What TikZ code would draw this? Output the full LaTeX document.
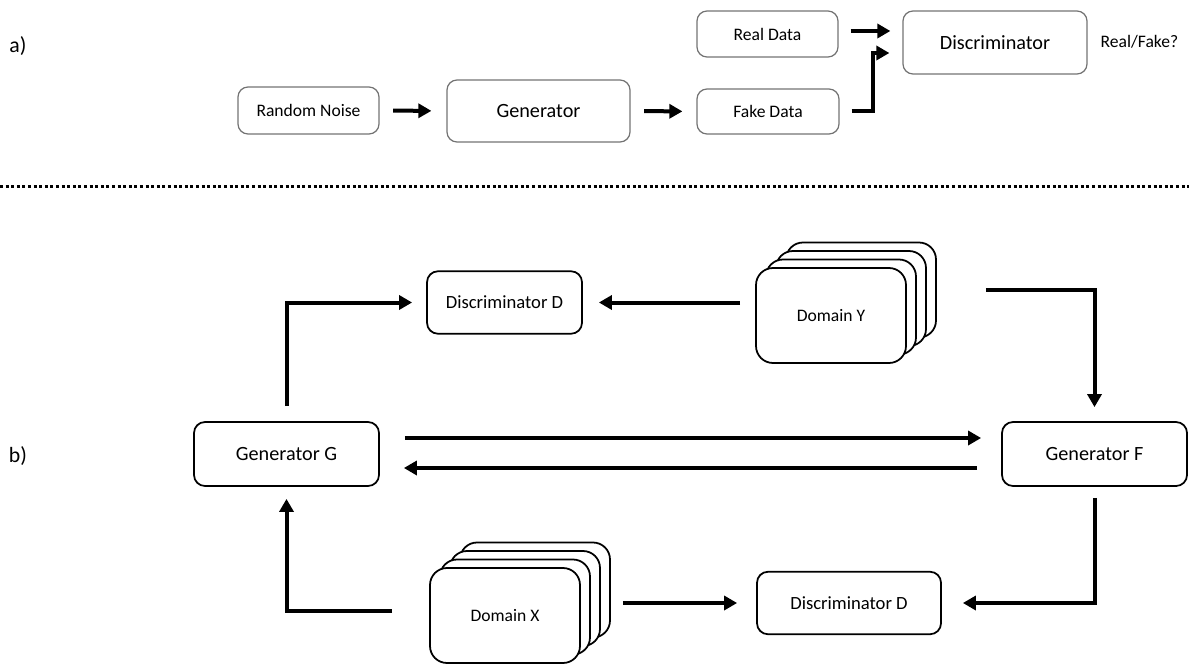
\documentclass[tikz,border=0pt]{standalone}
\usepackage{fontspec}
\setmainfont{Carlito}
\usetikzlibrary{arrows.meta, positioning, calc}

\begin{document}
\begin{tikzpicture}[
            topbox/.style={draw=black!55, line width=0.7pt, rounded corners=0.2cm, align=center, inner sep=0pt},
            smallbox/.style={topbox, font=\fontsize{10}{12}\selectfont},
            bigbox/.style={topbox, font=\fontsize{11.5}{14}\selectfont},
            cbox/.style={draw=black, line width=1pt, rounded corners=0.22cm, fill=white, inner sep=0pt, align=center},
            genbox/.style={cbox, minimum width=3.7cm, minimum height=1.28cm, font=\fontsize{11.5}{14}\selectfont},
            discbox/.style={cbox, minimum height=1.25cm, font=\fontsize{10.6}{13}\selectfont},
            stack/.style={cbox, rounded corners=0.34cm, minimum width=3cm, minimum height=1.9cm, font=\fontsize{10}{12}\selectfont},
            partlabel/.style={font=\fontsize{12.4}{15}\selectfont},
            arr/.style={-{Triangle[length=0.26cm, width=0.28cm]}, line width=0.08cm}
        ]
            \useasboundingbox (0,0) rectangle (23.78,-13.28);

            % a) Plain GAN
            \node[partlabel] (la) at (0.36, -0.92) {a)};
            \node[smallbox, minimum width=2.82cm, minimum height=0.94cm] (noise) at (6.17, -2.21) {Random Noise};
            \node[bigbox, minimum width=3.66cm, minimum height=1.24cm] (gen) at (10.77, -2.22) {Generator};
            \node[smallbox, minimum width=2.82cm, minimum height=0.92cm] (real) at (15.35, -0.68) {Real Data};
            \node[smallbox, minimum width=2.84cm, minimum height=0.90cm] (fake) at (15.36, -2.23) {Fake Data};
            \node[bigbox, minimum width=3.68cm, minimum height=1.26cm] (disc) at (19.9, -0.85) {Discriminator};
            \node[font=\fontsize{10}{12}\selectfont] (verdict) at (22.79, -0.83) {Real/Fake?};

            \draw[arr, shorten <=0.27cm, shorten >=0.3cm] (noise.east) -- (gen.west);
            \draw[arr, shorten <=0.27cm, shorten >=0.28cm] (gen.east) -- (fake.west);
            \coordinate (realout) at ([xshift=0.24cm, yshift=0.06cm]real.east);
            \draw[arr] (realout) -- ([xshift=-0.24cm]disc.west |- realout);
            \draw[arr] ([xshift=0.24cm]fake.east) -- ++(0.42,0) |- ([xshift=-0.26cm, yshift=-0.21cm]disc.west);

            % separator
            \draw[line width=0.06cm, dash pattern=on 0.06cm off 0.052cm] (0,-3.73) -- (23.78,-3.73);

            % b) CycleGAN
            \node[partlabel] (lb) at (0.36, -9.12) {b)};
            \node[discbox, minimum width=3.1cm] (discY) at (10.09, -6.05) {Discriminator D};
            \foreach \k in {3,2,1}
                \node[stack] (domY\k) at ({16.62+0.2*\k}, {-6.31+0.17*\k}) {};
            \node[stack] (domY) at (16.62, -6.31) {Domain Y};

            \node[genbox] (genG) at (5.73, -9.08) {Generator G};
            \node[genbox] (genF) at (21.89, -9.08) {Generator F};

            \foreach \k in {3,2,1}
                \node[stack] (domX\k) at ({10.1+0.2*\k}, {-12.31+0.17*\k}) {};
            \node[stack] (domX) at (10.1, -12.31) {Domain X};
            \node[discbox, minimum width=3.68cm] (discX) at (16.98, -12.06) {Discriminator D};

            \draw[arr] ([xshift=-0.3cm]domY.west |- discY.east) -- ([xshift=0.32cm]discY.east);
            \draw[arr] ([yshift=0.3cm]genG.north) |- ([xshift=-0.28cm]discY.west);
            \draw[arr] ([xshift=0.98cm]domY3.east) -| ([yshift=0.28cm]genF.north);

            \draw[arr] ([xshift=0.5cm, yshift=0.32cm]genG.east) -- ([xshift=-0.4cm, yshift=0.32cm]genF.west);
            \draw[arr] ([xshift=-0.48cm, yshift=-0.28cm]genF.west) -- ([xshift=0.48cm, yshift=-0.28cm]genG.east);

            \draw[arr] ([yshift=-0.22cm]genF.south) |- ([xshift=0.42cm]discX.east);
            \draw[arr] ([xshift=0.84cm]domX.east |- discX.west) -- ([xshift=-0.38cm]discX.west);
            \draw[arr] ([xshift=-0.74cm, yshift=0.1cm]domX.west) -| ([yshift=-0.24cm]genG.south);

        \end{tikzpicture}
\end{document}
